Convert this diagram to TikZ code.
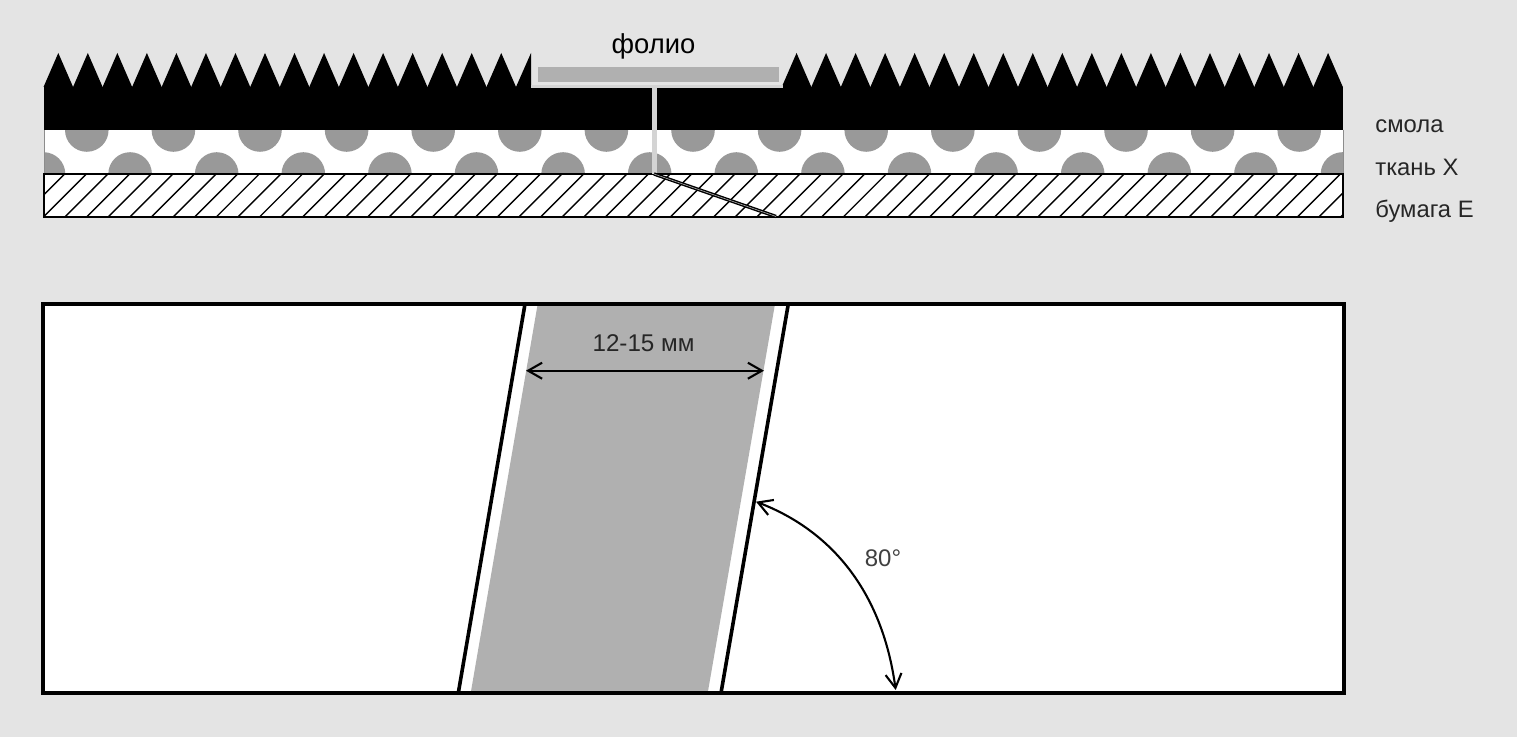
\documentclass[tikz,border=0pt]{standalone}
\usepackage{fontspec}
\setmainfont{Liberation Sans}
\usetikzlibrary{arrows.meta}

\definecolor{pagegray}{HTML}{E4E4E4}
\definecolor{foilgray}{HTML}{B0B0B0}
\definecolor{threadgray}{HTML}{999999}
\definecolor{slitgray}{HTML}{D4D4D4}

\newcommand{\tooth}[1]{\fill[black] ({58.3+29.53*#1-14.77},87) -- ({58.3+29.53*#1},53) -- ({58.3+29.53*#1+14.77},87) -- cycle;}

\begin{document}
\begin{tikzpicture}[
    x=0.5pt, y=-0.5pt,
    label/.style={inner sep=0pt, anchor=base west, font=\fontsize{11.9pt}{14pt}\selectfont, text=black!85},
    frame/.style={draw=black, line width=1.8pt},
    tick/.style={black, line width=1.05pt, {Straight Barb[length=7pt,width=8pt]}-{Straight Barb[length=7pt,width=8pt]}}
]
    \useasboundingbox (0,0) rectangle (1517,737);
    \fill[pagegray] (0,0) rectangle (1517,737);

    % Resin layer with teeth
    \fill[black] (44,87) rectangle (1343,130);
    \foreach \k in {0,...,15} {\tooth{\k}}
    \foreach \k in {25,...,43} {\tooth{\k}}
    \fill[black] (516,87) -- (531,53) -- (531,87) -- cycle;

    % Fabric layer
    \fill[white] (44,130) rectangle (1343,174);
    \begin{scope}
        \clip (44,131) rectangle (1343,174);
        \foreach \k in {0,...,14} {
            \fill[threadgray] ({86.8+86.6*\k},130) circle[radius=10.9pt];
        }
        \foreach \k in {0,...,15} {
            \fill[threadgray] ({43.5+86.6*\k},174) circle[radius=10.9pt];
        }
    \end{scope}
    \draw[black!45, line width=0.4pt] (44,130) -- (44,174) (1343,130) -- (1343,174);

    % Paper layer
    \fill[white] (44,174) rectangle (1343,217);
    \begin{scope}
        \clip (44,174) rectangle (1343,217);
        \foreach \k in {-2,...,60} {
            \draw[black, line width=0.7pt] ({43.3+21.62*\k},217) -- ++(43,-43);
        }
    \end{scope}
    \draw[black, line width=0.9pt] (44,174) rectangle (1343,217);

    % Foil and slit
    \fill[slitgray] (531,85) rectangle (783,88);
    \fill[slitgray] (652.3,87) rectangle (657.3,174);
    \fill[foilgray] (537.7,66.7) rectangle (778.7,82);
    \coordinate (cutstart) at (654,174);
    \coordinate (cutend) at (776,216.5);
    \draw[black, line width=1.7pt] (cutstart) -- (cutend);
    \draw[foilgray, line width=0.3pt] (cutstart) -- (cutend);

    % Layer labels
    \node[inner sep=0pt, anchor=base, font=\fontsize{13.7pt}{16pt}\selectfont] (foil) at (653.5,53.3) {фолио};
    \node[label] (resin) at (1375,132.2) {смола};
    \node[label] (fabric) at (1375,175.5) {ткань X};
    \node[label] (paper) at (1375,217.7) {бумага E};

    % Lower panel
    \fill[white] (43,304) rectangle (1344,693);
    \fill[foilgray] (537.7,304) -- (775,304) -- (707.7,693) -- (470.7,693) -- cycle;
    \draw[black, line width=1.8pt] (525,304) -- (458.3,693);
    \draw[black, line width=1.8pt] (788.3,304) -- (721,693);
    \draw[frame] (43,304) rectangle (1344,693);

    % Width and angle marks
    \coordinate (widthl) at (526,370.7);
    \coordinate (widthr) at (764,370.7);
    \draw[tick] (widthl) -- (widthr);
    \node[inner sep=0pt, anchor=base, font=\fontsize{12.1pt}{14pt}\selectfont, text=black!85] (width) at (643.5,351.3) {12-15 мм};
    \coordinate (anglea) at (756,501.7);
    \coordinate (angleb) at (895.7,690);
    \draw[tick] (anglea) .. controls (830,530) and (882,590) .. (angleb);
    \node[inner sep=0pt, anchor=base, font=\fontsize{12pt}{14pt}\selectfont, text=black!75] (angle) at (883,567) {80°};
\end{tikzpicture}
\end{document}
